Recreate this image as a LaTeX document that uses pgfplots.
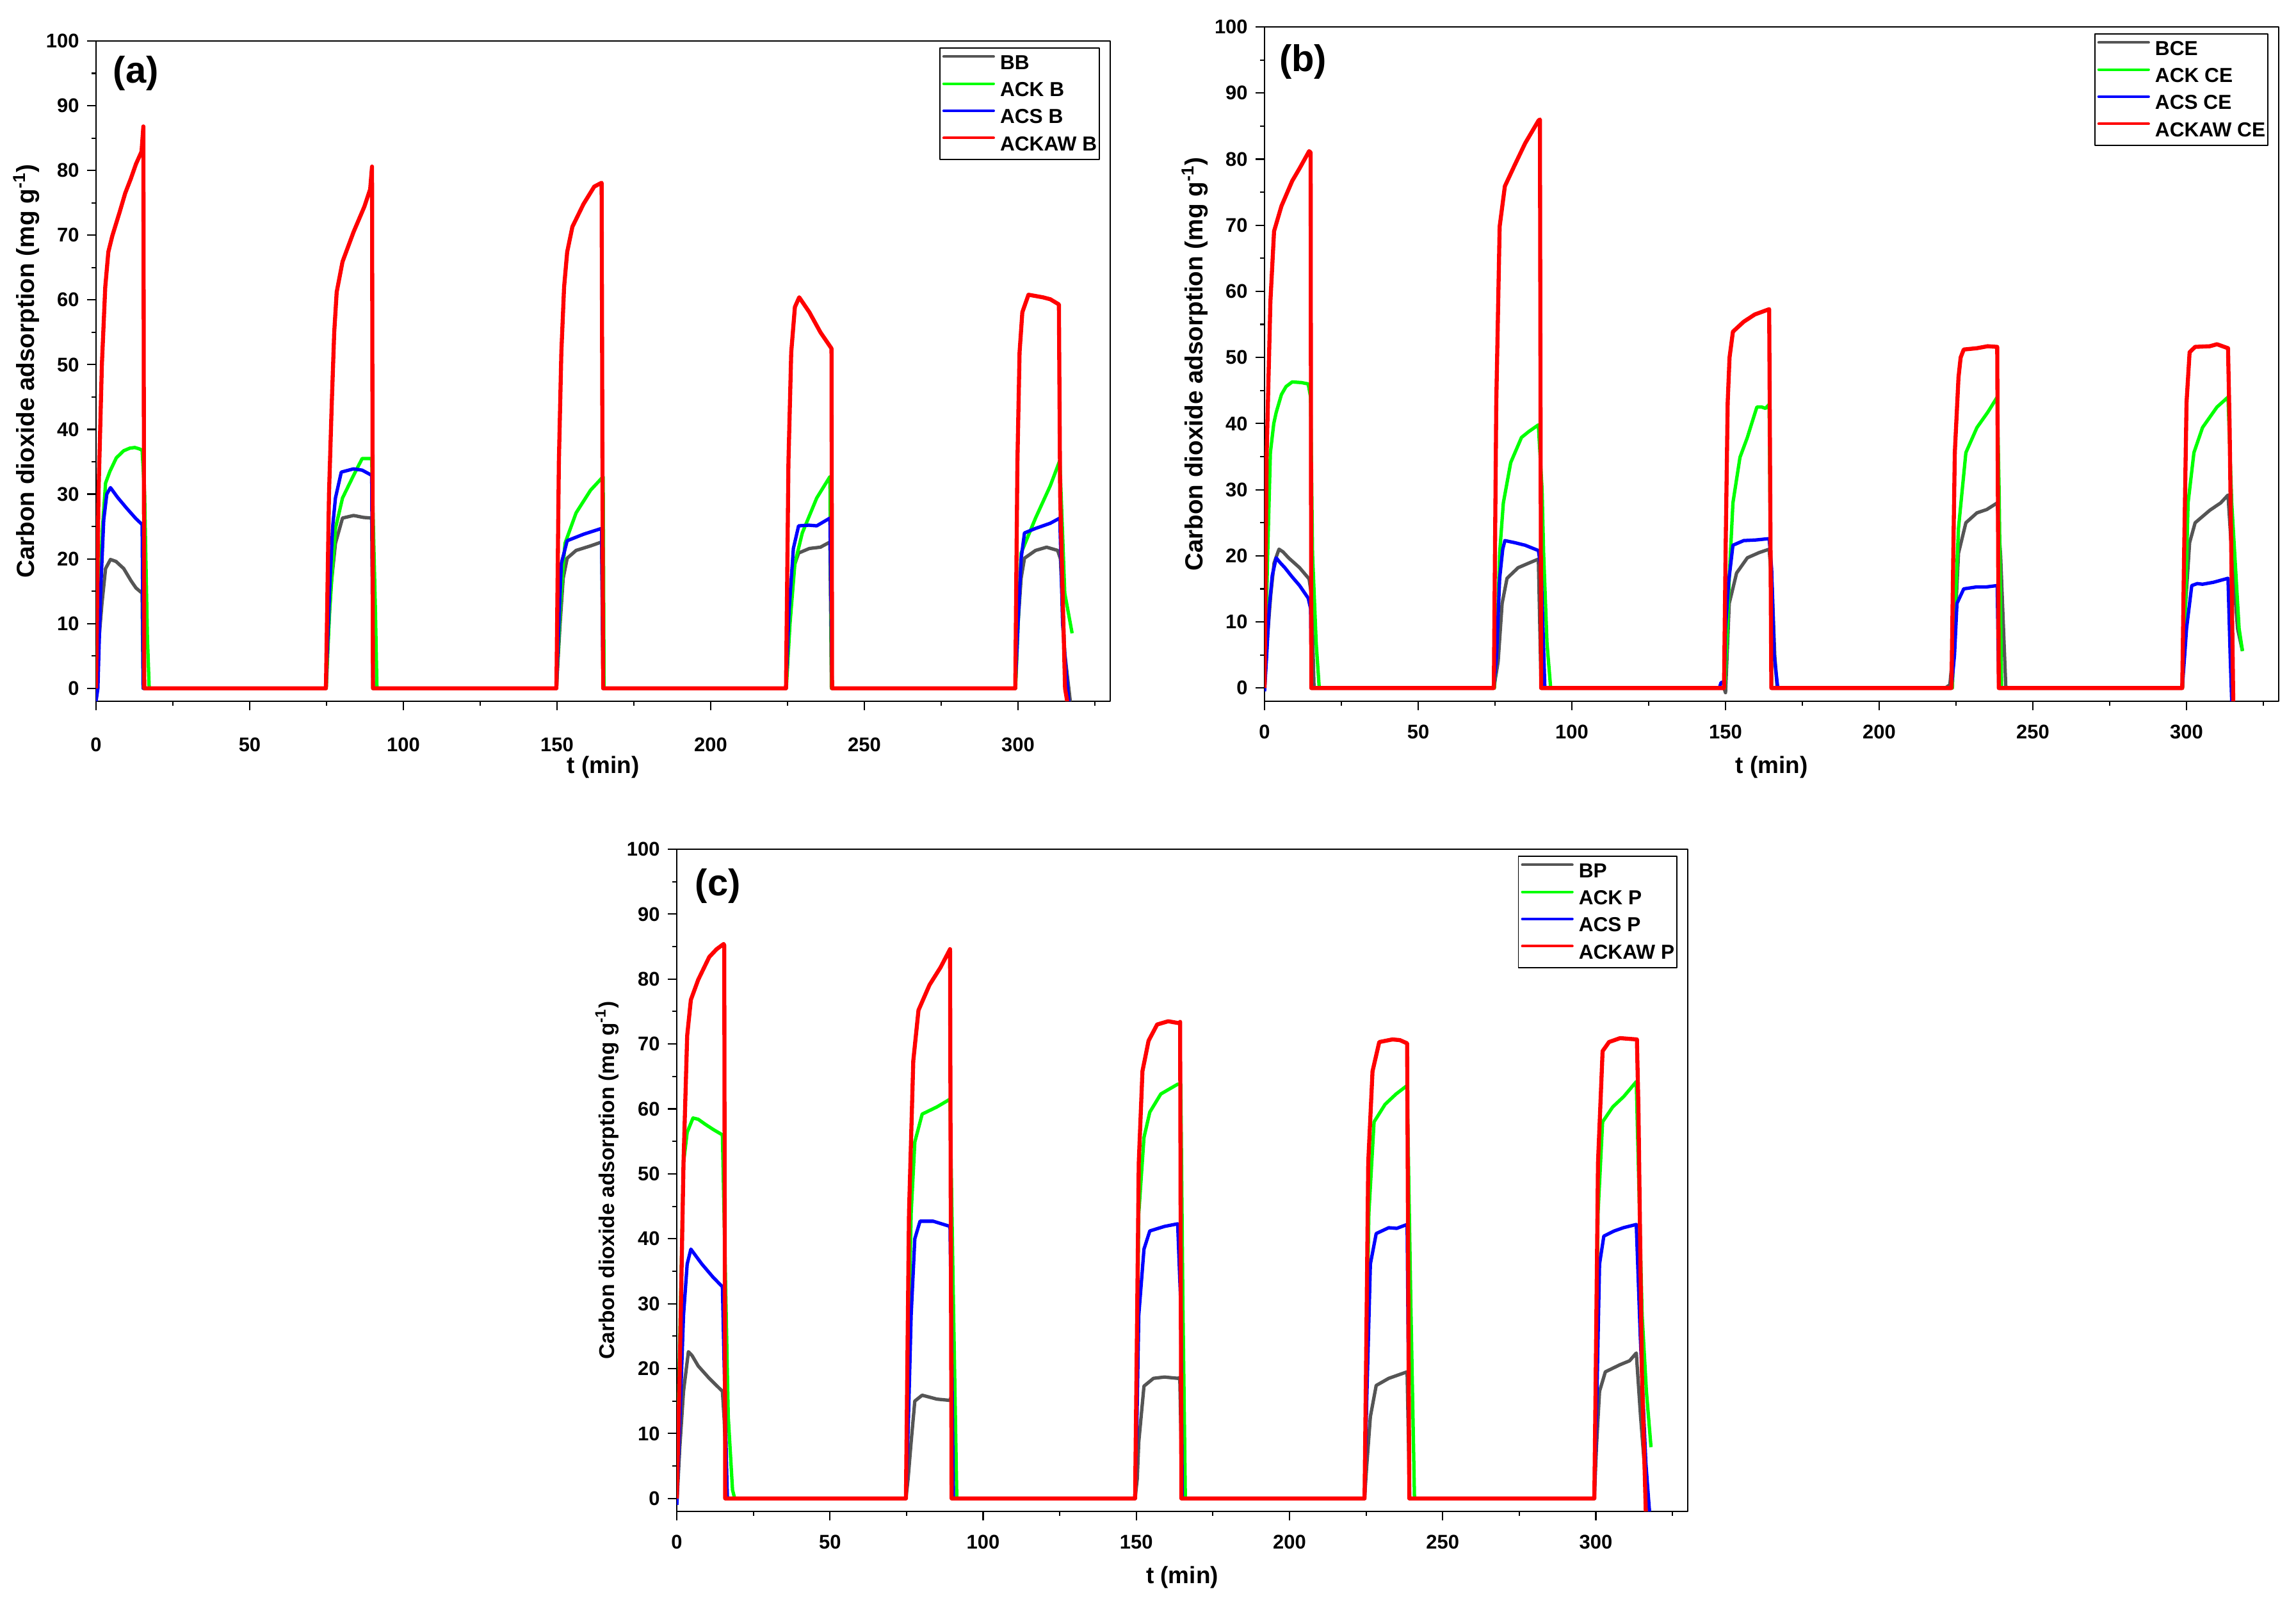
\documentclass[border=0pt]{standalone}
\usepackage{fontspec}
\setmainfont{Liberation Sans}
\usepackage{pgfplots}
\pgfplotsset{compat=1.18}
\definecolor{cgray}{RGB}{85,85,85}
\definecolor{cgreen}{RGB}{0,255,0}
\definecolor{cblue}{RGB}{0,0,255}
\definecolor{cred}{RGB}{255,0,0}

\pgfplotsset{
  panel/.style={
    scale only axis, anchor=south west,
    xmin=0, xmax=330, ymin=-2, ymax=100,
    xtick={0,50,...,300}, ytick={0,10,...,100},
    minor xtick={25,75,...,325}, minor ytick={5,15,...,95},
    tick align=outside, xtick pos=bottom, ytick pos=left,
    major tick length=0.14cm, minor tick length=0.07cm,
    every tick/.style={black, line width=0.6pt},
    axis line style={line width=0.6pt},
    tick label style={font=\fontsize{8.8}{10}\selectfont\bfseries},
    xticklabel style={yshift=-0.10cm},
    /pgf/number format/assume math mode=true,
    every axis x label/.style={at={([yshift=-1.03cm]rel axis cs:0.5,0)}, anchor=center, font=\fontsize{10.5}{12}\selectfont\bfseries},
    every axis y label/.style={at={([xshift=-1.09cm]rel axis cs:0,0.5)}, rotate=90, anchor=center, font=\fontsize{11}{12}\selectfont\bfseries},
    xlabel={t (min)},
    ylabel={Carbon dioxide adsorption (mg g\textsuperscript{-1})},
    legend style={at={(rel axis cs:1,1)}, anchor=north east, xshift=-0.16cm, yshift=-0.1cm,
      draw=black, line width=0.5pt, font=\fontsize{9}{10}\selectfont\bfseries,
      inner xsep=0.04cm, inner ysep=0.095cm, row sep=0.143cm, column sep=0.08cm,
      nodes={inner sep=0pt, text height=0.24cm, text depth=0.04cm}},
    legend cell align=left,
    legend image code/.code={\draw[#1, line width=1.2pt, line cap=round] (0cm,0.1cm) -- (0.78cm,0.1cm);},
    line join=round,
  },
  sgray/.style={color=cgray, line width=1.5pt},
  sgreen/.style={color=cgreen, line width=1.5pt},
  sblue/.style={color=cblue, line width=1.5pt},
  sred/.style={color=cred, line width=1.8pt},
}

\begin{document}
\begin{tikzpicture}
\useasboundingbox (0,0) rectangle (35.86,25.02);

% ---------------- (a) ----------------
\begin{axis}[panel, at={(1.50cm,14.07cm)}, width=15.84cm, height=10.31cm,
  xticklabel style={yshift=-0.20cm}]
\addplot[sgray] coordinates {(0,-2) (0.5,5) (1.9,13) (3.1,18.5) (4.7,19.9) (6.5,19.6) (9,18.5) (11.4,16.6) (13,15.5) (15,14.7) (15.3,0) (74.8,0) (75.5,8) (76.5,16) (77.9,22.4) (80.2,26.3) (83.8,26.7) (87,26.4) (89.7,26.3) (90.2,0) (149.8,0) (151,10) (152,17) (153.3,20.1) (156.2,21.3) (160.9,22.0) (164.5,22.6) (165,0) (224.5,0) (225.5,10) (226.5,18) (228.6,20.9) (232.1,21.6) (235.7,21.8) (238.8,22.6) (239.3,0) (299.1,0) (300,10) (301,17) (302.1,20.1) (305.7,21.3) (309.3,21.8) (312.9,21.3) (313.8,20) (315.2,5.4) (317,-2)};
\addlegendentry{BB}
\addplot[sgreen] coordinates {(0,0) (1,12) (2,24) (3.1,31.7) (4.5,33.5) (6.6,35.6) (9,36.7) (11,37.1) (12.6,37.2) (14,37) (15,36.8) (15.8,30) (16.7,8) (17.3,0) (74.9,0) (76,12) (77,19) (77.9,24.7) (80.2,29.4) (83.8,32.9) (86.6,35.5) (89.7,35.5) (90.9,12) (91.4,0) (149.8,0) (151,12) (152,19) (152.6,22.4) (156.2,27.1) (160.9,30.6) (165,32.7) (165.3,0) (224.6,0) (225.8,10) (227.4,19.3) (229.8,24) (234.5,29.4) (238.8,32.7) (239.3,0) (299.2,0) (300.2,12) (301,20.9) (305.7,26.3) (310.5,31.3) (313.6,35.2) (315.2,14.7) (317.6,8.5)};
\addlegendentry{ACK B}
\addplot[sblue] coordinates {(0,-2) (0.6,0) (1.5,15) (2.5,26) (3.5,30) (4.7,31) (7,29.5) (10,27.8) (13,26.2) (15,25.3) (15.4,0) (74.8,0) (76,15) (77,25) (77.9,29.4) (79.8,33.4) (83.8,33.9) (86.6,33.7) (89.7,32.9) (90.1,0) (149.8,0) (150.6,10) (151.4,19.3) (153.3,22.8) (158.6,23.8) (164.5,24.7) (165,0) (224.5,0) (225.5,12) (226.9,21.6) (228.6,25.1) (232,25.2) (234.5,25.1) (238.8,26.3) (239.5,0) (299.1,0) (300,10) (301,20) (302.1,24) (305.7,24.7) (310.5,25.5) (313.6,26.3) (314.5,10) (315.7,2.2) (316.5,-2)};
\addlegendentry{ACS B}
\addplot[sred] coordinates {(0,0) (0.8,30) (1.9,50) (3,62) (4,67.4) (5.3,69.9) (7.7,73.6) (9.5,76.5) (11.3,78.7) (13,81) (14.8,82.9) (15.4,86.8) (15.7,0) (74.8,0) (75.8,30) (76.7,44) (77.5,55) (78.3,61.2) (80.2,65.9) (83.8,70.5) (87.3,74.4) (89.2,77.1) (89.8,80.6) (90.1,0) (149.8,0) (150.6,35) (151.4,51.9) (152.3,62) (153.3,67.4) (155,71.3) (158.6,74.8) (162.1,77.5) (164.5,78.1) (165,0) (224.5,0) (225.3,35) (226.2,51.9) (227.4,58.9) (228.8,60.4) (232.1,58.1) (235.7,55) (239.3,52.5) (239.5,0) (299.1,0) (299.8,35) (300.5,51.9) (301.4,58.1) (303.4,60.8) (308.1,60.4) (310.5,60.1) (313.3,59.3) (313.7,30) (315.3,0) (316,-2)};
\addlegendentry{ACKAW B}
\node[font=\fontsize{16.5}{18}\selectfont\bfseries] at (axis cs:13,95) {(a)};
\end{axis}

% ---------------- (b) ----------------
\begin{axis}[panel, at={(19.75cm,14.07cm)}, width=15.84cm, height=10.53cm]
\addplot[sgray] coordinates {(0,0) (1,8) (2,14) (3.1,18.9) (4.7,21) (6,20.6) (7.8,19.7) (11.4,18.2) (14.5,16.5) (15.3,14) (16.1,0) (74.6,0) (76,4) (77.3,12.8) (78.9,16.6) (82.5,18.2) (86,18.9) (89.1,19.5) (90,0) (149.5,0) (150,-0.7) (151.2,12.8) (153.6,17.4) (157.1,19.7) (161,20.5) (164.2,21) (165.2,15) (166,5) (166.8,0) (221.5,0) (223,0.5) (224.5,8) (225.8,20.4) (228.2,25) (231.8,26.5) (235,27) (238.4,28) (239.5,20) (241.2,0) (298.5,0) (299.3,10) (301,22) (302.8,25) (307.6,26.9) (311.1,28) (313.5,29.2) (314.7,20.4) (316.6,9) (318.2,5.6)};
\addlegendentry{BCE}
\addplot[sgreen] coordinates {(0,0) (1,20) (1.9,35.6) (3,40) (3.8,41.7) (5.5,44.4) (7,45.6) (9,46.3) (12,46.2) (14.2,46.0) (15,44) (15.6,20.4) (16.8,6.8) (17.8,0) (74.8,0) (75.7,8) (76.5,20.4) (77.7,28) (80.1,34.1) (83.6,37.9) (86,38.8) (89.1,39.8) (90.3,30) (90.8,20.4) (91.9,6.8) (93.1,0) (149.7,0) (150.5,8) (151.2,16.6) (152.4,28) (154.7,34.9) (157.1,37.9) (158.5,40) (160.2,42.5) (161.8,42.5) (163,42.3) (164.2,42.9) (165,0) (223.8,0) (224.7,12) (225.8,24.2) (228.2,35.6) (231.8,39.4) (235.3,41.7) (238.4,44) (239,30) (239.8,0) (298.7,0) (299.6,12) (300.5,28) (302.4,35.6) (305.2,39.4) (309.9,42.5) (313.5,44) (314.7,28) (317.1,9) (318.2,5.6)};
\addlegendentry{ACK CE}
\addplot[sblue] coordinates {(0,-0.5) (0.7,5) (1.5,12) (2.5,17) (3.8,19.7) (5,19) (6.6,18.2) (9,16.8) (11.4,15.5) (14.2,13.6) (15,12) (15.3,0) (74.6,0) (75.5,5) (76.5,16.6) (77.5,21) (78.2,22.3) (81.3,22) (84.8,21.6) (89.1,20.8) (90,18) (91.2,0) (148,0) (148.5,0.8) (149.6,1) (150,9) (151,16) (152.4,21.6) (155.9,22.3) (160,22.4) (164.2,22.6) (165,18) (165.8,5) (167,0) (223.5,0) (224.5,5) (225.3,12.8) (227.5,15) (231.8,15.3) (235,15.3) (238.4,15.5) (238.9,0) (298.6,0) (299.4,5) (300,9) (301.7,15.5) (303.5,15.8) (305.2,15.7) (308.8,16) (313.5,16.6) (314.2,5) (314.7,-2)};
\addlegendentry{ACS CE}
\addplot[sred] coordinates {(0,0) (0.7,35.6) (1.9,58.4) (3.1,69.1) (5.5,72.9) (9,76.7) (11.4,78.6) (14.5,81.2) (15.0,81) (15.2,0) (74.6,0) (75.4,43.2) (76.5,69.8) (78.2,75.9) (81.3,79) (84.8,82.4) (89.1,85.8) (89.6,86) (90,0) (149.5,0) (150,20) (150.7,43.2) (151.3,50) (152.4,53.9) (155.9,55.4) (159.5,56.5) (164.2,57.3) (164.9,0) (223.5,0) (224.1,20) (224.6,35.6) (225.8,47) (226.5,50) (227.5,51.2) (231.8,51.4) (235.3,51.7) (238.4,51.6) (238.9,0) (298.6,0) (299.2,20) (300,43.2) (301,50.8) (302.8,51.6) (307.6,51.7) (309.9,52) (313.5,51.4) (314,40) (315.2,-2)};
\addlegendentry{ACKAW CE}
\node[font=\fontsize{16.5}{18}\selectfont\bfseries] at (axis cs:12.5,94.7) {(b)};
\end{axis}

% ---------------- (c) ----------------
\begin{axis}[panel, at={(10.57cm,1.42cm)}, width=15.79cm, height=10.34cm,
  every axis y label/.append style={font=\fontsize{9.5}{11}\selectfont\bfseries}]
\addplot[sgray] coordinates {(0,-1) (1,8) (2.2,16.5) (3.8,22.6) (5,22) (7,20.4) (10.6,18.5) (14.9,16.5) (15.5,12) (16.5,0) (74.8,0) (75.5,3) (76.5,8.7) (77.7,15) (80.1,15.9) (84.9,15.3) (89.2,15.1) (89.8,16) (90.2,0) (149.6,0) (150.3,3) (150.8,8.7) (152.5,17.3) (155.6,18.5) (159.2,18.7) (163.5,18.5) (164.2,18.6) (165,0) (224.5,0) (225.2,5) (226.4,12.6) (228.3,17.4) (232.4,18.5) (238.4,19.5) (239.2,0) (299.5,0) (300.2,8) (301.2,16.5) (303.1,19.5) (307.9,20.6) (311,21.2) (313.2,22.4) (314.6,12.6) (316.3,2.4) (317.5,-2)};
\addlegendentry{BP}
\addplot[sgreen] coordinates {(0,0) (1,25) (2.2,51.7) (3.4,56.4) (5.3,58.6) (7,58.4) (9.4,57.6) (12,56.8) (14.9,56) (15.8,36) (16.8,12.6) (18.2,1.3) (18.9,0) (74.8,0) (75.7,25) (76.5,43.9) (77.7,54.9) (80.1,59.2) (84.9,60.3) (89.2,61.5) (90.3,30) (91.4,0) (149.6,0) (150.2,20) (150.8,43.9) (152.5,55.6) (154.4,59.5) (158,62.3) (163.5,63.8) (164.5,63.8) (165.2,30) (166,0) (224.5,0) (225.2,25) (225.9,43.9) (227.6,58) (231.2,60.7) (234.8,62.3) (238.4,63.6) (239.6,30) (240.8,0) (299.5,0) (300.2,25) (300.7,43.9) (302.2,58) (305.5,60.3) (309.1,61.9) (313.2,64.2) (315.1,28.2) (316.5,16.5) (318,7.9)};
\addlegendentry{ACK P}
\addplot[sblue] coordinates {(0,-1) (1,12) (2.2,28.2) (3.4,36.1) (4.6,38.4) (6,37.5) (8.2,36.1) (11.8,34.1) (14.9,32.6) (15.5,20) (16.5,0) (74.8,0) (75.6,12) (76.5,28.2) (77.7,40) (79.4,42.7) (83.7,42.7) (89.2,41.9) (89.8,20) (90.3,0) (149.6,0) (150.2,12) (150.8,28.2) (152.5,38.4) (154.4,41.2) (159.2,41.9) (163.5,42.3) (164.5,30) (165,0) (224.5,0) (225.2,15) (226.4,36.1) (228.3,40.8) (232.4,41.7) (235,41.6) (238.4,42.2) (239.2,0) (299.5,0) (300.3,15) (301.2,36.1) (302.6,40.4) (306,41.2) (309,41.7) (313.2,42.2) (314.5,25) (316.3,5.6) (317.5,-2)};
\addlegendentry{ACS P}
\addplot[sred] coordinates {(0,0) (1,20.4) (2.2,51.7) (3.4,71.3) (4.6,76.8) (7,79.9) (10.6,83.4) (13,84.6) (15.3,85.4) (15.5,85.2) (15.8,0) (74.8,0) (75.8,43.9) (77.2,67.4) (78.9,75.2) (82.5,79.1) (86.1,81.8) (89.2,84.6) (89.7,0) (149.6,0) (150.2,25) (150.8,51.7) (152,65.8) (154,70.5) (156.8,73) (160.4,73.5) (164,73.2) (164.3,73.4) (164.7,0) (224.5,0) (225.1,25) (225.7,51.7) (227.1,65.8) (229.3,70.3) (233.6,70.7) (236,70.6) (238.4,70.1) (239.1,0) (299.5,0) (300.1,25) (300.7,51.7) (302.2,68.9) (304.3,70.3) (307.9,70.9) (313.4,70.7) (313.9,60) (315,20) (316.3,-2)};
\addlegendentry{ACKAW P}
\node[font=\fontsize{16.5}{18}\selectfont\bfseries] at (axis cs:13.4,94.3) {(c)};
\end{axis}
\end{tikzpicture}
\end{document}
